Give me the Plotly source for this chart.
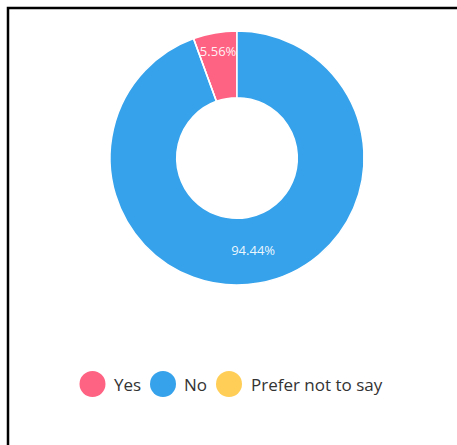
import plotly.graph_objects as go

# Survey answers
labels = ["Yes", "No", "Prefer not to say"]
counts = [1, 17, 0]
colors = ["#FF6384", "#36A2EB", "#FFCE56"]

W, H = 457, 445
FONT = "'Open Sans', Lato, sans-serif"


def px_x(v):
    return v / W


def px_y(v):
    return 1 - v / H


# hide the label of empty slices
templates = ["%{percent:.2%}" if c > 0 else "" for c in counts]
# first slice ends at 12 o'clock
start_angle = -360 * counts[0] / sum(counts)

fig = go.Figure()
fig.add_trace(go.Pie(
    labels=labels,
    values=counts,
    sort=False,
    direction="clockwise",
    rotation=start_angle,
    hole=0.475,
    marker=dict(colors=colors, line=dict(color="white", width=1.5)),
    texttemplate=templates,
    textposition="inside",
    insidetextorientation="horizontal",
    textfont=dict(color="rgba(255,255,255,0.92)", size=13, family=FONT),
    showlegend=False,
    domain=dict(x=[px_x(110), px_x(364)], y=[px_y(285), px_y(31)]),
))

shapes = []
annotations = []

# frame around the chart (left and top edges visible)
shapes.append(dict(type="rect", xref="paper", yref="paper",
                   x0=px_x(8), x1=px_x(470), y0=px_y(460), y1=px_y(8),
                   line=dict(color="black", width=2.5), fillcolor="rgba(0,0,0,0)"))

# custom legend with round swatches
legend_circles = [92.5, 163, 229]
legend_text_x = [112, 182, 249]
cy = 384
r = 13
for cx, tx, lab, col in zip(legend_circles, legend_text_x, labels, colors):
    shapes.append(dict(type="circle", xref="paper", yref="paper",
                       x0=px_x(cx - r), x1=px_x(cx + r),
                       y0=px_y(cy + r), y1=px_y(cy - r),
                       fillcolor=col, line=dict(width=0)))
    annotations.append(dict(text=lab, xref="paper", yref="paper",
                            x=px_x(tx), y=px_y(cy), xanchor="left", yanchor="middle",
                            showarrow=False,
                            font=dict(size=17, color="#333333", family=FONT)))

fig.update_layout(
    width=W, height=H,
    margin=dict(l=0, r=0, t=0, b=0),
    paper_bgcolor="white",
    plot_bgcolor="white",
    shapes=shapes,
    annotations=annotations,
    uniformtext=dict(minsize=12, mode="show"),
)

fig.write_html("out.html")
